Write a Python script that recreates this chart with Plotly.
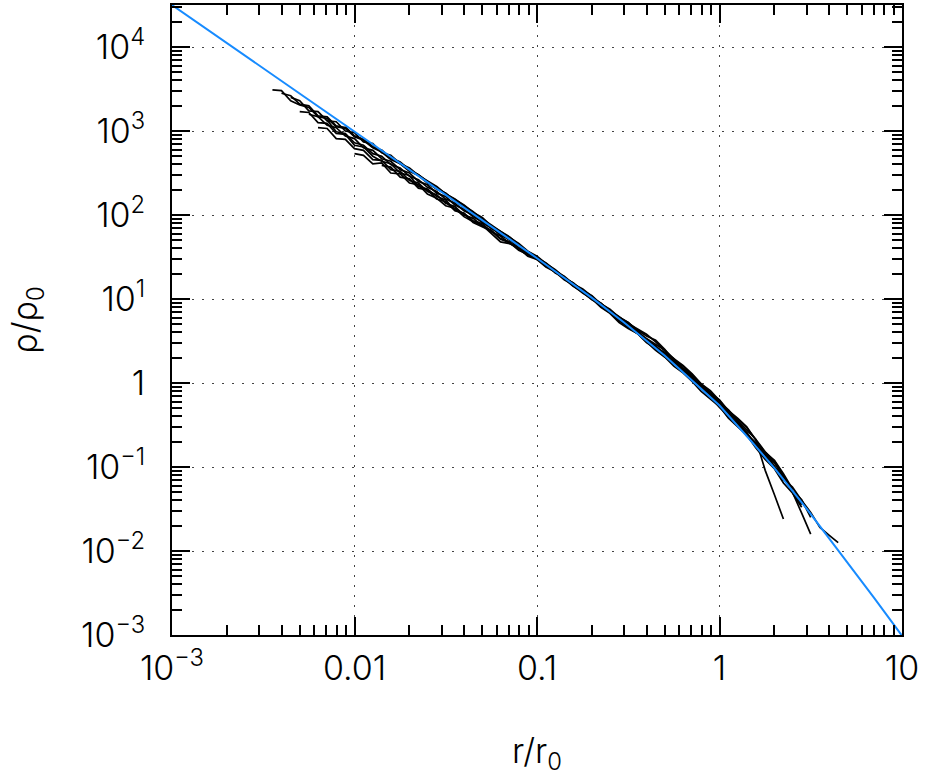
import plotly.graph_objects as go

# radial bins (r/r0), 0.05 dex apart, shared by all profiles
r_bins = [0.00355, 0.00398, 0.00447, 0.00501, 0.00562, 0.00631, 0.00708, 0.00794, 0.00891, 0.0100,
          0.0112, 0.0126, 0.0141, 0.0158, 0.0178, 0.0200, 0.0224, 0.0251, 0.0282, 0.0316,
          0.0355, 0.0398, 0.0447, 0.0501, 0.0562, 0.0631, 0.0708, 0.0794, 0.0891, 0.100,
          0.112, 0.126, 0.141, 0.158, 0.178, 0.200, 0.224, 0.251, 0.282, 0.316,
          0.355, 0.398, 0.447, 0.501, 0.562, 0.631, 0.708, 0.794, 0.891, 1.00,
          1.12, 1.26, 1.41, 1.58, 1.78, 2.00, 2.24, 2.51, 2.82, 3.16,
          3.55, 3.98, 4.47]

# log10(rho/rho0) of each measured profile, with the index of its first bin
profiles = [
    (0, [3.49, 3.48, 3.36, 3.31, 3.28, 3.17, 3.15, 3.05, 3.03, 2.93, 2.89, 2.80, 2.75, 2.66, 2.61, 2.52,
         2.47, 2.38, 2.31, 2.26, 2.16, 2.10, 2.03, 1.93, 1.87, 1.80, 1.72, 1.65, 1.55, 1.49, 1.42, 1.35,
         1.26, 1.17, 1.10, 1.00, 0.93, 0.87, 0.77, 0.71, 0.65, 0.58, 0.49, 0.38, 0.28, 0.20, 0.09, -0.03,
         -0.12, -0.20, -0.33, -0.42, -0.52, -0.68, -0.83, -0.94, -1.11, -1.29, -1.45]),
    (2, [3.40, 3.36, 3.24, 3.23, 3.12, 3.11, 3.00, 2.98, 2.87, 2.85, 2.74, 2.71, 2.61, 2.56, 2.47, 2.41,
         2.34, 2.25, 2.18, 2.12, 2.03, 1.97, 1.87, 1.80, 1.74, 1.65, 1.56, 1.50, 1.40, 1.33, 1.27, 1.18,
         1.12, 1.03, 0.93, 0.86, 0.75, 0.68, 0.62, 0.52, 0.42, 0.36, 0.29, 0.17, 0.06, -0.01, -0.09, -0.21,
         -0.35, -0.43, -0.53, -0.67, -1.04, -1.33, -1.62]),
    (5, [3.04, 3.03, 2.91, 2.90, 2.79, 2.77, 2.66, 2.65, 2.54, 2.52, 2.41, 2.38, 2.28, 2.24, 2.14, 2.10,
         2.00, 1.96, 1.87, 1.82, 1.72, 1.68, 1.59, 1.53, 1.47, 1.38, 1.32, 1.23, 1.17, 1.08, 0.99, 0.93,
         0.84, 0.77, 0.68, 0.58, 0.50, 0.44, 0.34, 0.23, 0.15, 0.08, -0.03, -0.16, -0.24, -0.34, -0.47,
         -0.61, -0.71, -0.85, -1.00, -1.11, -1.30, -1.55, -1.80]),
    (9, [2.73, 2.71, 2.61, 2.62, 2.50, 2.49, 2.38, 2.36, 2.25, 2.20, 2.11, 2.08, 1.98, 1.92, 1.88, 1.78,
         1.68, 1.66, 1.60, 1.51, 1.47, 1.41, 1.31, 1.26, 1.16, 1.09, 1.02, 0.92, 0.85, 0.74, 0.67, 0.61,
         0.51, 0.41, 0.33, 0.26, 0.14, 0.03, -0.06, -0.15, -0.27, -0.41, -0.49, -0.59, -0.75, -0.89, -1.00,
         -1.17]),
    (1, [3.45, 3.42, 3.32, 3.30, 3.18, 3.17, 3.06, 3.04, 2.94, 2.90, 2.81, 2.77, 2.68, 2.63, 2.54, 2.48,
         2.40, 2.31, 2.26, 2.17, 2.09, 2.02, 1.96, 1.86, 1.79, 1.73, 1.64, 1.57, 1.49, 1.40, 1.34, 1.25,
         1.16, 1.09, 1.02, 0.95, 0.85, 0.78, 0.72, 0.63, 0.56, 0.51, 0.40, 0.27, 0.16, 0.08, -0.04, -0.17,
         -0.24, -0.37, -0.50, -0.59, -0.74, -0.83, -0.98, -1.14, -1.24, -1.40, -1.54, -1.72, -1.81, -1.90]),
    (4, [3.20, 3.17, 3.07, 3.04, 2.94, 2.91, 2.80, 2.77, 2.67, 2.64, 2.54, 2.50, 2.40, 2.36, 2.26, 2.22,
         2.12, 2.07, 1.98, 1.92, 1.84, 1.78, 1.70, 1.61, 1.55, 1.50, 1.41, 1.32, 1.25, 1.19, 1.09, 1.00,
         0.94, 0.87, 0.76, 0.69, 0.60, 0.53, 0.46, 0.39, 0.29, 0.21, 0.11, -0.01, -0.11, -0.23, -0.32,
         -0.45, -0.56, -0.67, -0.82, -0.93, -1.10, -1.28, -1.39, -1.60]),
    (6, [3.13, 2.99, 2.97, 2.86, 2.83, 2.73, 2.70, 2.60, 2.56, 2.46, 2.42, 2.33, 2.28, 2.19, 2.14, 2.05,
         2.00, 1.91, 1.85, 1.76, 1.71, 1.64, 1.54, 1.49, 1.43, 1.34, 1.24, 1.18, 1.11, 1.01, 0.95, 0.86,
         0.79, 0.70, 0.60, 0.52, 0.43, 0.36, 0.25, 0.13, 0.06, -0.06, -0.16, -0.29, -0.39, -0.48, -0.63,
         -0.73, -0.83, -0.92, -1.08, -1.26]),
    (3, [3.23, 3.22, 3.10, 3.09, 2.97, 2.96, 2.83, 2.81, 2.70, 2.64, 2.61, 2.50, 2.47, 2.34, 2.31, 2.22,
         2.18, 2.06, 2.02, 1.93, 1.90, 1.80, 1.75, 1.66, 1.61, 1.54, 1.48, 1.39, 1.33, 1.24, 1.15, 1.08,
         1.01, 0.91, 0.84, 0.76, 0.66, 0.59, 0.48, 0.41, 0.31, 0.24, 0.16, 0.05, -0.03, -0.12, -0.25,
         -0.36, -0.50, -0.61, -0.72, -0.86, -1.01, -1.13]),
    (8, [3.05, 2.94, 2.90, 2.81, 2.77, 2.67, 2.62, 2.53, 2.48, 2.39, 2.33, 2.25, 2.19, 2.11, 2.04, 1.95,
         1.88, 1.81, 1.73, 1.66, 1.57, 1.51, 1.42, 1.33, 1.26, 1.16, 1.07, 1.00, 0.90, 0.83, 0.72, 0.65,
         0.59, 0.49, 0.39, 0.31, 0.20, 0.12, 0.02, -0.10, -0.19, -0.28, -0.42, -0.52, -0.62, -0.77, -0.91,
         -1.02, -1.19, -1.31, -1.48]),
    (12, [2.59, 2.57, 2.45, 2.43, 2.32, 2.30, 2.19, 2.16, 2.05, 2.02, 1.91, 1.86, 1.81, 1.71, 1.67, 1.58,
          1.53, 1.48, 1.39, 1.34, 1.25, 1.19, 1.10, 1.04, 0.94, 0.88, 0.78, 0.72, 0.62, 0.51, 0.44, 0.33,
          0.25, 0.17, 0.10, -0.02, -0.14, -0.26, -0.35, -0.45, -0.60, -0.75, -0.85, -0.95, -1.12, -1.29]),
]

# fitted density profile
fit_r = [0.001, 0.002, 0.005, 0.01, 0.02, 0.05, 0.1, 0.2, 0.3, 0.5, 0.7, 1.0, 1.5, 2.0, 3.0, 5.0, 7.0, 10.0]
fit_rho = [31600, 11150, 2820, 995, 352, 88.3, 30.6, 10.3, 5.25, 2.12, 1.1, 0.54, 0.2, 0.097, 0.032,
           0.0074, 0.0028, 0.00098]

x_tickvals = [0.001, 0.01, 0.1, 1, 10]
x_ticktext = ["10<sup>\u22123</sup>", "0.01", "0.1", "1", "10"]
y_tickvals = [1e-3, 1e-2, 1e-1, 1, 10, 100, 1e3, 1e4]
y_ticktext = ["10<sup>\u22123</sup>", "10<sup>\u22122</sup>", "10<sup>\u22121</sup>", "1",
              "10<sup>1</sup>", "10<sup>2</sup>", "10<sup>3</sup>", "10<sup>4</sup>"]

x_minor = [m * 10.0 ** k for k in range(-3, 1) for m in range(2, 10)]
y_minor = [m * 10.0 ** k for k in range(-3, 5) for m in range(2, 10)]

fig = go.Figure()

for start, logs in profiles:
    fig.add_trace(go.Scatter(
        x=r_bins[start:start + len(logs)],
        y=[10 ** v for v in logs],
        mode="lines",
        line=dict(color="black", width=1.7),
        showlegend=False,
    ))

fig.add_trace(go.Scatter(
    x=fit_r, y=fit_rho, mode="lines",
    line=dict(color="#178bff", width=2),
    showlegend=False,
))

font = dict(family="Inter, Lato, sans-serif", size=34, color="black", weight=300)

axis = dict(
    type="log",
    showline=True, linecolor="black", linewidth=2, mirror="ticks",
    ticks="inside", ticklen=18, tickwidth=1.5, tickcolor="black",
    showgrid=True, gridcolor="#444", gridwidth=1, griddash="2px,8px",
    zeroline=False,
    tickfont=font,
)

fig.update_layout(
    width=926, height=779,
    margin=dict(l=172, r=24, t=3, b=144),
    paper_bgcolor="white", plot_bgcolor="white",
    font=font,
    xaxis=dict(axis, range=[-3, 1], tickmode="array", tickvals=x_tickvals, ticktext=x_ticktext,
               minor=dict(tickmode="array", tickvals=x_minor, ticks="inside", ticklen=10,
                          tickwidth=1.5, tickcolor="black", showgrid=False),
               ticklabelstandoff=2,
               title=dict(text="r/r<sub>0</sub>", font=font, standoff=52)),
    yaxis=dict(axis, range=[-3, 4.5], tickmode="array", tickvals=y_tickvals, ticktext=y_ticktext,
               minor=dict(tickmode="array", tickvals=y_minor, ticks="inside", ticklen=10,
                          tickwidth=1.5, tickcolor="black", showgrid=False),
               ticklabelstandoff=18,
               title=dict(text="\u03c1/\u03c1<sub>0</sub>", font=font, standoff=33)),
)

fig.write_html("out.html", config={"displayModeBar": False},
               post_script="document.body.style.margin='0px';")
